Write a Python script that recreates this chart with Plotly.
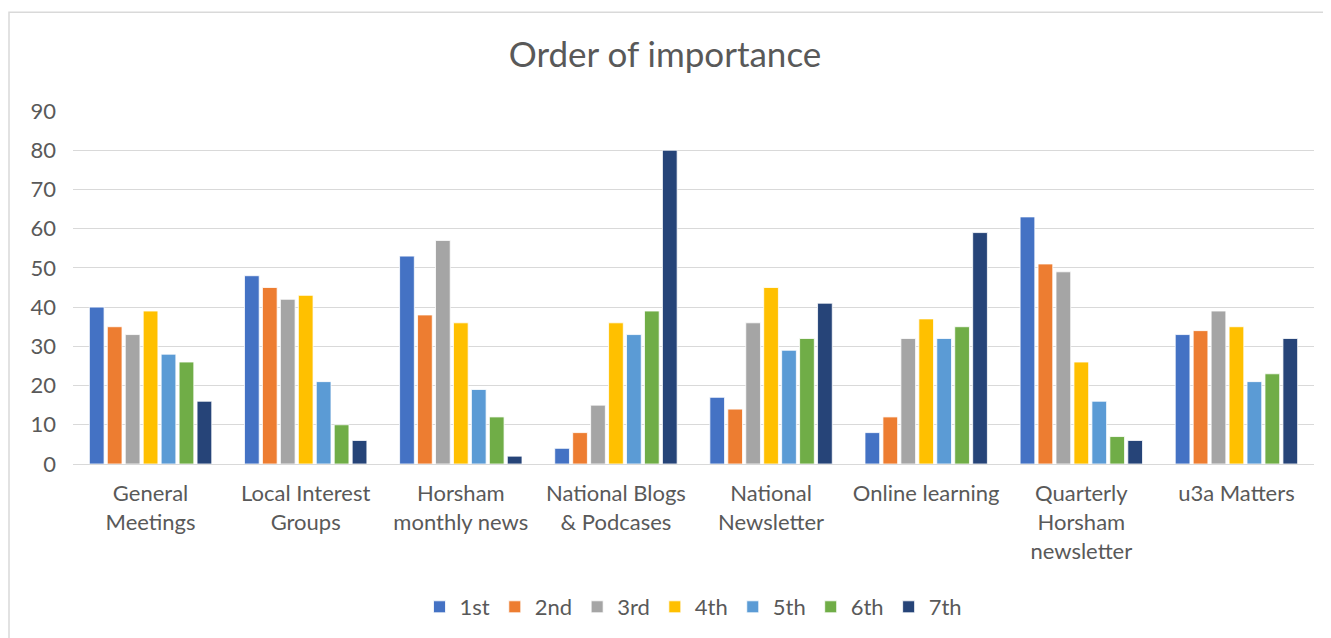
import plotly.graph_objects as go

categories = ["General<br>Meetings", "Local Interest<br>Groups", "Horsham<br>monthly news",
              "National Blogs<br>& Podcases", "National<br>Newsletter", "Online learning",
              "Quarterly<br>Horsham<br>newsletter", "u3a Matters"]
series_names = ["1st", "2nd", "3rd", "4th", "5th", "6th", "7th"]
s1 = [40, 48, 53, 4, 17, 8, 63, 33]
s2 = [35, 45, 38, 8, 14, 12, 51, 34]
s3 = [33, 42, 57, 15, 36, 32, 49, 39]
s4 = [39, 43, 36, 36, 45, 37, 26, 35]
s5 = [28, 21, 19, 33, 29, 32, 16, 21]
s6 = [26, 10, 12, 39, 32, 35, 7, 23]
s7 = [16, 6, 2, 80, 41, 59, 6, 32]
colors = ["#4472C4", "#ED7D31", "#A5A5A5", "#FFC000", "#5B9BD5", "#70AD47", "#264478"]

fig = go.Figure()
for name, vals, col in zip(series_names, [s1, s2, s3, s4, s5, s6, s7], colors):
    fig.add_trace(go.Bar(x=categories, y=vals, name=name, marker_color=col,
                         marker_line_color="white", marker_line_width=0.8))

# page has an 8px body margin; figure coordinates = page coordinates - 8
W, H = 1323, 630
L, R, T, B = 65, 17, 103, 173
pw, ph = W - L - R, H - T - B

fig.update_layout(
    width=W, height=H,
    margin=dict(l=L, r=R, t=T, b=B),
    paper_bgcolor="white", plot_bgcolor="white",
    font=dict(family="Lato, Liberation Sans, sans-serif", size=22, color="#595959"),
    title=dict(text="Order of importance", x=(665 - 8) / W, xanchor="center", y=1 - 47 / H, yanchor="middle",
               font=dict(size=35, color="#595959")),
    barmode="group", bargap=0.19, bargroupgap=0.18,
    showlegend=True,
    legend=dict(orientation="h", x=0.5, xanchor="center", y=-(599 - 457) / ph, yanchor="middle",
                font=dict(size=22, color="#595959"), itemwidth=30, traceorder="normal"),
    xaxis=dict(showgrid=False, showline=True, linecolor="#d9d9d9", linewidth=1, ticks="",
               ticklabelstandoff=10, tickfont=dict(size=22, color="#595959")),
    yaxis=dict(range=[0, 90], dtick=10, showgrid=True, gridcolor="#d9d9d9", gridwidth=1,
               zeroline=False, showline=False, ticks="", ticklen=0, ticklabelstandoff=16,
               tickfont=dict(size=22, color="#595959")),
    shapes=[dict(type="rect", xref="paper", yref="paper",
                 x0=(1 - L) / pw, x1=2,
                 y0=-2, y1=(H - B - 4) / ph,
                 line=dict(color="#d9d9d9", width=1.5), layer="below")],
)
fig.write_html("out.html")
